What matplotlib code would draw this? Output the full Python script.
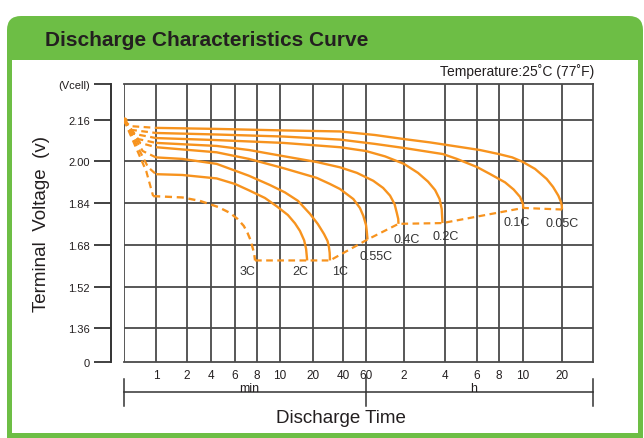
import numpy as np
import matplotlib.pyplot as plt
from matplotlib.patches import FancyBboxPatch, Rectangle
from matplotlib.transforms import IdentityTransform

plt.rcParams['font.family'] = ['Liberation Sans', 'DejaVu Sans']

ORANGE = '#F7931E'
GREEN = '#6DBE45'
GRID = '#4a4a4a'

# discharge time (min) and terminal voltage (V/cell)
rates = ['3C', '2C', '1C', '0.55C', '0.4C', '0.2C', '0.1C', '0.05C']
t_3c = [0.94, 1.8, 2.91, 4.5, 5.51, 6.2, 6.73, 7.07, 7.35, 7.7, 7.8]
v_3c = [1.866, 1.861, 1.848, 1.825, 1.802, 1.779, 1.752, 1.725, 1.698, 1.648, 1.62]
t_2c = [1.0, 1.8, 4.4, 6.0, 7.2, 8.64, 9.7, 11.8, 13.7, 15.2, 16.6, 17.3, 17.7]
v_2c = [1.949, 1.946, 1.933, 1.912, 1.888, 1.859, 1.827, 1.794, 1.762, 1.733, 1.697, 1.664, 1.62]
t_1c = [1.0, 1.8, 4.4, 7.2, 9.07, 11.1, 14.6, 18.8, 22.4, 25.8, 28.0, 28.9, 29.4, 29.6]
v_1c = [2.013, 2.007, 1.988, 1.943, 1.908, 1.880, 1.848, 1.798, 1.759, 1.721, 1.694, 1.671, 1.649, 1.62]
t_055c = [1.0, 4.4, 7.2, 10.7, 21.8, 29.6, 37.3, 48.0, 53.9, 57.2, 60, 60.8, 61.7]
v_055c = [2.053, 2.033, 2.007, 1.972, 1.935, 1.912, 1.893, 1.855, 1.821, 1.791, 1.756, 1.733, 1.70]
t_04c = [1.0, 4.4, 7.2, 10.7, 21.8, 37.3, 51.1, 68.5, 82, 93, 101, 105, 108, 108.5]
v_04c = [2.070, 2.058, 2.042, 2.018, 1.995, 1.975, 1.954, 1.924, 1.897, 1.868, 1.836, 1.804, 1.779, 1.76]
t_02c = [1.0, 4.4, 10.7, 37.3, 60, 84.9, 120, 152, 180, 203, 219, 227, 230]
v_02c = [2.089, 2.081, 2.070, 2.053, 2.038, 2.017, 1.988, 1.954, 1.921, 1.889, 1.855, 1.817, 1.763]
t_01c = [1.0, 4.4, 10.7, 37.3, 70.7, 120, 232, 279, 360, 426, 508, 550, 584, 600, 602]
v_01c = [2.109, 2.103, 2.095, 2.083, 2.066, 2.050, 2.026, 2.007, 1.976, 1.950, 1.918, 1.891, 1.863, 1.836, 1.821]
t_005c = [1.0, 4.4, 10.7, 37.3, 70.7, 120, 186, 290, 374, 480, 543, 600, 743, 914, 1023, 1124, 1178, 1195, 1200]
v_005c = [2.129, 2.125, 2.119, 2.115, 2.101, 2.085, 2.072, 2.054, 2.042, 2.026, 2.013, 1.995, 1.969, 1.931,
          1.901, 1.868, 1.844, 1.830, 1.815]

# initial drop from the charged voltage (dashed fan at the left)
t_start, v_start = 0.5, 2.16
knee_t = [0.81, 0.84, 0.75, 0.71, 0.68, 0.63, 0.59, 0.57]
knee_v = [1.96, 1.976, 2.038, 2.070, 2.085, 2.105, 2.121, 2.136]

curves_t = [t_3c, t_2c, t_1c, t_055c, t_04c, t_02c, t_01c, t_005c]
curves_v = [v_3c, v_2c, v_1c, v_055c, v_04c, v_02c, v_01c, v_005c]

# offsets of the rate labels from the curve end (pixels, right / down)
label_dx = [-8, -7, 10, 9, 8, 3, -6, 0]
label_dy = [11, 11, 11, 17, 15, 13, 14, 13]

# the printed grid is not a true log axis, so map it piece by piece
grid_t = [0.5, 1, 2, 4, 6, 8, 10, 20, 40, 60, 120, 240, 360, 480, 600, 1200, 2000]
grid_px = [0, 32, 63, 87, 111, 133, 156, 189, 219, 242, 280, 321, 353, 375, 399, 438, 469]
tick_t = [1, 2, 4, 6, 8, 10, 20, 40, 60, 120, 240, 360, 480, 600, 1200]
tick_lbl = ['1', '2', '4', '6', '8', '10', '20', '40', '60', '2', '4', '6', '8', '10', '20']

volt_ticks = [0, 1.36, 1.52, 1.68, 1.84, 2.00, 2.16, 2.30]
volt_px = [0, 33.7, 75.3, 117.3, 159, 201.3, 242, 278]
volt_lbl = ['0', '1.36', '1.52', '1.68', '1.84', '2.00', '2.16', '(Vcell)']

log_t = np.log(grid_t)


def fwd_x(t):
    t = np.clip(np.asarray(t, float), 1e-6, None)
    return np.interp(np.log(t), log_t, grid_px)


def inv_x(p):
    return np.exp(np.interp(np.asarray(p, float), grid_px, log_t))


def fwd_y(v):
    return np.interp(np.asarray(v, float), volt_ticks, volt_px)


def inv_y(p):
    return np.interp(np.asarray(p, float), volt_px, volt_ticks)


W, H = 644, 439
fig = plt.figure(figsize=(W / 100, H / 100), dpi=100)

# green frame with header
fig.add_artist(FancyBboxPatch((7, -20), 636, 442, boxstyle='round,pad=0,rounding_size=14',
                              transform=IdentityTransform(), fc=GREEN, ec='none', zorder=-2))
fig.add_artist(Rectangle((12, 5), 626, H - 61 - 5, transform=IdentityTransform(),
                         fc='white', ec='none', zorder=-1))
fig.text(45 / W, 1 - 41 / H, 'Discharge Characteristics Curve', fontsize=15,
         fontweight='bold', color='#231F20', va='center', ha='left')
fig.text(594 / W, 1 - 72 / H, 'Temperature:25˚C (77˚F)', fontsize=10,
         color='#231F20', va='center', ha='right')
fig.text(42 / W, 1 - 224 / H, 'Terminal  Voltage  (v)', fontsize=13.5, rotation=90,
         color='#231F20', va='center', ha='center')

ax = fig.add_axes([124 / W, 1 - 363 / H, 469 / W, 278 / H])
ax.set_facecolor('none')
ax.set_xscale('function', functions=(fwd_x, inv_x))
ax.set_yscale('function', functions=(fwd_y, inv_y))
ax.set_xlim(grid_t[0], grid_t[-1])
ax.set_ylim(volt_ticks[0], volt_ticks[-1])

for t in grid_t[:-1]:
    ax.axvline(t, color=GRID, lw=1.3, zorder=1)
for v in volt_ticks[1:-1]:
    ax.axhline(v, color=GRID, lw=1.3, zorder=1)

for s in ['top', 'right', 'bottom']:
    ax.spines[s].set_color(GRID)
    ax.spines[s].set_linewidth(1.3)
ax.spines['left'].set_position(('outward', 9.5))
ax.spines['left'].set_color('#333333')
ax.spines['left'].set_linewidth(1.4)

ax.set_xticks(tick_t)
ax.set_xticklabels(tick_lbl)
ax.set_yticks(volt_ticks)
ax.set_yticklabels(volt_lbl)
ax.minorticks_off()
ax.tick_params(axis='x', length=0, pad=5, labelsize=8.5, labelcolor='#231F20')
ax.tick_params(axis='y', length=12, width=1.3, color='#333333', pad=3,
               labelsize=8, labelcolor='#231F20')

dash = (0, (3, 2))
for i, r in enumerate(rates):
    ax.plot([t_start, knee_t[i], curves_t[i][0]], [v_start, knee_v[i], curves_v[i][0]],
            color=ORANGE, lw=1.6, ls=dash, zorder=3)
    ax.plot(curves_t[i], curves_v[i], color=ORANGE, lw=1.7,
            ls=dash if r == '3C' else '-', zorder=3, solid_capstyle='butt',
            solid_joinstyle='round')
    ax.annotate(r, xy=(curves_t[i][-1], curves_v[i][-1]),
                xytext=(label_dx[i] * 0.72, -label_dy[i] * 0.72), textcoords='offset points',
                ha='center', va='center', fontsize=9, color='#333333', zorder=4)

# cut-off line through the curve ends
end_t = [c[-1] for c in curves_t]
end_v = [c[-1] for c in curves_v]
ax.plot(end_t, end_v, color=ORANGE, lw=1.6, ls=dash, zorder=3)
ax.plot([t_start], [v_start], marker='o', ms=3.5, color=ORANGE, zorder=4)

# min / h bracket under the time axis
xt = ax.get_xaxis_transform()
ax.plot([grid_t[0], grid_t[-1]], [-0.108, -0.108], transform=xt, color='#333333',
        lw=1.1, clip_on=False)
for t, y0 in [(grid_t[0], -0.061), (60, -0.054), (grid_t[-1], -0.061)]:
    ax.plot([t, t], [y0, -0.158], transform=xt, color='#333333', lw=1.1, clip_on=False)
ax.text(0.266, -0.094, 'min', transform=ax.transAxes, fontsize=9, ha='center',
        va='center', color='#231F20')
ax.text(0.746, -0.094, 'h', transform=ax.transAxes, fontsize=9, ha='center',
        va='center', color='#231F20')
ax.text(0.463, -0.201, 'Discharge Time', transform=ax.transAxes, fontsize=13.5,
        ha='center', va='center', color='#231F20')

fig.savefig('out.png', dpi=100)
